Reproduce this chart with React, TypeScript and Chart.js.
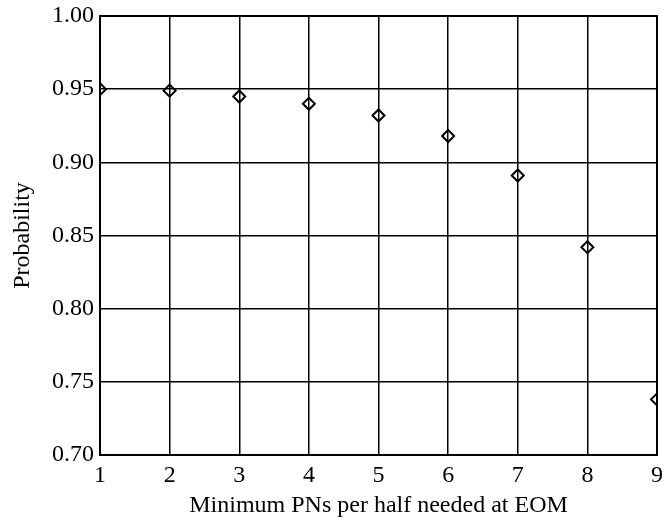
import React, { useEffect, useRef } from "react";
import { Chart, registerables } from "chart.js";

Chart.register(...registerables);

const xValues = [1, 2, 3, 4, 5, 6, 7, 8, 9];
const probabilities = [0.95, 0.949, 0.945, 0.94, 0.932, 0.918, 0.891, 0.842, 0.738];
const xTitle = "Minimum PNs per half needed at EOM";
const yTitle = "Probability";

const FONT = '"Liberation Serif", "Times New Roman", serif';

const framePlugin = {
  id: "frame",
  afterDatasetsDraw(chart: any) {
    const { ctx, chartArea } = chart;
    ctx.save();
    ctx.strokeStyle = "#000";
    ctx.lineWidth = 2;
    ctx.strokeRect(chartArea.left, chartArea.top, chartArea.right - chartArea.left, chartArea.bottom - chartArea.top);
    ctx.restore();
  },
};

export default function App() {
  const ref = useRef<HTMLCanvasElement>(null);
  useEffect(() => {
    if (!ref.current) return;
    const chart = new Chart(ref.current, {
      type: "scatter",
      data: {
        datasets: [
          {
            data: xValues.map((x, i) => ({ x, y: probabilities[i] })),
            pointStyle: "rectRot",
            pointRadius: 6,
            pointBorderWidth: 2,
            borderColor: "#000",
            backgroundColor: "rgba(0,0,0,0)",
          },
        ],
      },
      options: {
        responsive: false,
        animation: false,
        layout: { padding: { left: 0, right: 9, top: 16, bottom: 0 } },
        plugins: { legend: { display: false }, tooltip: { enabled: false } },
        scales: {
          x: {
            type: "linear",
            min: 1,
            max: 9,
            afterFit: (s: any) => { s.height = 68; s.paddingLeft = 0; s.paddingRight = 0; },
            ticks: { stepSize: 1, color: "#000", padding: 6, font: { family: FONT, size: 24 } },
            grid: { color: "#000", lineWidth: 1.5, drawTicks: false },
            border: { color: "#000", width: 2 },
            title: { display: true, text: xTitle, color: "#000", font: { family: FONT, size: 24 }, padding: { top: 0, bottom: 3 } },
          },
          y: {
            type: "linear",
            min: 0.7,
            max: 1.0,
            afterFit: (s: any) => { s.width = 100; s.paddingTop = 0; s.paddingBottom = 0; },
            ticks: {
              stepSize: 0.05,
              color: "#000",
              padding: 6,
              font: { family: FONT, size: 24 },
              callback: (v: any) => Number(v).toFixed(2),
            },
            grid: { color: "#000", lineWidth: 1.5, drawTicks: false },
            border: { color: "#000", width: 2 },
            title: { display: true, text: yTitle, color: "#000", font: { family: FONT, size: 24 }, padding: { top: 8, bottom: 0 } },
          },
        },
      },
      plugins: [framePlugin],
    });
    return () => chart.destroy();
  }, []);
  return (
    <div style={{ position: "fixed", left: 0, top: 0, width: 666, height: 523, background: "#fff" }}>
      <canvas ref={ref} width={666} height={523} />
    </div>
  );
}
